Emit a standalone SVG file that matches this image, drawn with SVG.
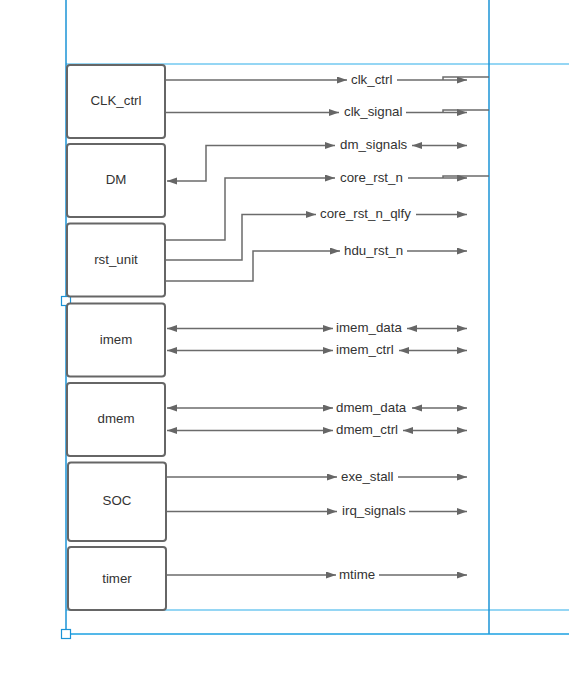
<svg xmlns="http://www.w3.org/2000/svg" width="569" height="691" viewBox="0 0 569 691">
<style>
.frame{fill:none;stroke:#1b93d6;stroke-width:1.5}
.frame-b{fill:none;stroke:#1ba1e2;stroke-width:1.5}
.frame-l{fill:none;stroke:#72c8f0;stroke-width:1.5}
.handle{fill:#fff;stroke:#1b93d6;stroke-width:1.2}
.box{fill:#fff;stroke:#666;stroke-width:2}
.nt{font-family:"Liberation Sans",Arial,sans-serif;font-size:13.3px;fill:#333;text-anchor:middle}
.w{fill:none;stroke:#6b6b6b;stroke-width:1.5}
.wt{font-family:"Liberation Sans",Arial,sans-serif;font-size:13.3px;fill:#333}
.e{marker-end:url(#ah)}
.b{marker-start:url(#ah);marker-end:url(#ah)}
</style>
<defs>
<marker id="ah" markerUnits="userSpaceOnUse" markerWidth="11" markerHeight="8" refX="10" refY="3.5" orient="auto-start-reverse">
<path d="M0,0 L10,3.5 L0,7 z" fill="#666"/>
</marker>
</defs>
<rect width="569" height="691" fill="#fff"/>
<g id="frame">
<line class="frame-l" x1="66" y1="64" x2="569" y2="64"/>
<line class="frame-l" x1="66" y1="610" x2="569" y2="610"/>
<line class="frame" x1="66" y1="0" x2="66" y2="634"/>
<line class="frame" x1="489" y1="0" x2="489" y2="634"/>
<line class="frame-b" x1="66" y1="634" x2="569" y2="634"/>
<rect class="handle" x="61.5" y="296.5" width="9" height="9"/>
<rect class="handle" x="61.5" y="629.5" width="9" height="9"/>
</g>
<g id="connectors">
<polyline class="w" points="489,77 443,77 443,80"/>
<polyline class="w" points="489,110 443,110 443,112.5"/>
<polyline class="w" points="489,176 443,176 443,178"/>
<line class="w e" x1="165" y1="80" x2="347" y2="80"/>
<text class="wt" x="351" y="83.5">clk_ctrl</text>
<line class="w e" x1="397" y1="80" x2="467" y2="80"/>
<line class="w e" x1="165" y1="112.5" x2="339" y2="112.5"/>
<text class="wt" x="344" y="116">clk_signal</text>
<line class="w e" x1="406" y1="112.5" x2="467" y2="112.5"/>
<polyline class="w b" points="167,181 206,181 206,145.5 335,145.5"/>
<text class="wt" x="340" y="149">dm_signals</text>
<line class="w b" x1="412" y1="145.5" x2="467" y2="145.5"/>
<polyline class="w e" points="165,240 225,240 225,178 335,178"/>
<text class="wt" x="340" y="181.5">core_rst_n</text>
<line class="w e" x1="408" y1="178" x2="467" y2="178"/>
<polyline class="w e" points="165,260 242,260 242,214.5 316,214.5"/>
<text class="wt" x="320" y="218">core_rst_n_qlfy</text>
<line class="w e" x1="416" y1="214.5" x2="467" y2="214.5"/>
<polyline class="w e" points="165,281 253,281 253,251 340,251"/>
<text class="wt" x="344" y="254.5">hdu_rst_n</text>
<line class="w e" x1="407" y1="251" x2="467" y2="251"/>
<line class="w b" x1="167" y1="328.5" x2="333" y2="328.5"/>
<text class="wt" x="336" y="332">imem_data</text>
<line class="w b" x1="407" y1="328.5" x2="467" y2="328.5"/>
<line class="w b" x1="167" y1="350.5" x2="333" y2="350.5"/>
<text class="wt" x="336" y="354">imem_ctrl</text>
<line class="w b" x1="399" y1="350.5" x2="467" y2="350.5"/>
<line class="w b" x1="167" y1="408" x2="333" y2="408"/>
<text class="wt" x="336" y="411.5">dmem_data</text>
<line class="w b" x1="412" y1="408" x2="467" y2="408"/>
<line class="w b" x1="167" y1="430.5" x2="333" y2="430.5"/>
<text class="wt" x="336" y="434">dmem_ctrl</text>
<line class="w b" x1="403" y1="430.5" x2="467" y2="430.5"/>
<line class="w e" x1="166" y1="477" x2="337" y2="477"/>
<text class="wt" x="341" y="480.5">exe_stall</text>
<line class="w e" x1="398" y1="477" x2="467" y2="477"/>
<line class="w e" x1="166" y1="511.5" x2="337" y2="511.5"/>
<text class="wt" x="342" y="515">irq_signals</text>
<line class="w e" x1="409" y1="511.5" x2="467" y2="511.5"/>
<line class="w e" x1="166" y1="575" x2="336" y2="575"/>
<text class="wt" x="339" y="578.5">mtime</text>
<line class="w e" x1="379" y1="575" x2="467" y2="575"/>
</g>
<g id="CLK_ctrl"><rect class="box" x="67" y="65" width="98" height="73" rx="3"/><text class="nt" x="116" y="105">CLK_ctrl</text></g>
<g id="DM"><rect class="box" x="67" y="144" width="98" height="73" rx="3"/><text class="nt" x="116" y="184">DM</text></g>
<g id="rst_unit"><rect class="box" x="67" y="223.5" width="98" height="73" rx="3"/><text class="nt" x="116" y="264">rst_unit</text></g>
<g id="imem"><rect class="box" x="67" y="303.5" width="98" height="73" rx="3"/><text class="nt" x="116" y="344">imem</text></g>
<g id="dmem"><rect class="box" x="67" y="383" width="98" height="73" rx="3"/><text class="nt" x="116" y="423">dmem</text></g>
<g id="SOC"><rect class="box" x="68" y="462.5" width="98" height="78.5" rx="3"/><text class="nt" x="117" y="505">SOC</text></g>
<g id="timer"><rect class="box" x="68" y="547" width="98" height="63" rx="3"/><text class="nt" x="117" y="583">timer</text></g>
</svg>
